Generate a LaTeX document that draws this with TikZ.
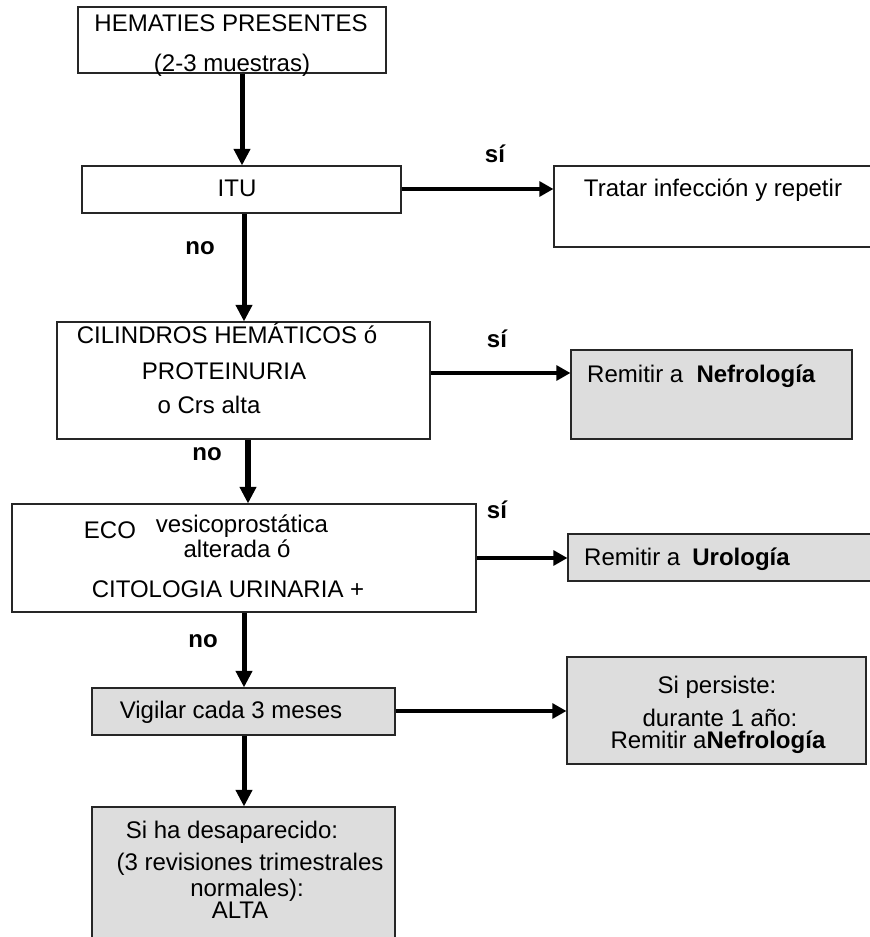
\documentclass[tikz,border=0pt]{standalone}
\usepackage{fontspec}
\setmainfont{Liberation Sans}
\usetikzlibrary{arrows.meta,fit}
\definecolor{boxfill}{HTML}{DDDDDD}

\begin{document}
\begin{tikzpicture}[x=0.03cm,y=-0.03cm,
    box/.style={draw=black!85,line width=0.9pt,inner sep=0pt},
    greybox/.style={box,fill=boxfill},
    txt/.style={inner sep=0pt,anchor=base,font=\fontsize{20.5}{24}\selectfont},
    lbl/.style={txt,font=\fontsize{20.5}{24}\selectfont\bfseries},
    vflow/.style={line width=0.15cm,-{Triangle[length=0.5cm,width=0.48cm]}},
    hflow/.style={line width=0.14cm,-{Triangle[length=0.42cm,width=0.44cm]}}]

\useasboundingbox (0,0) rectangle (869,937);

% boxes
\node [box, fit={(78,7) (386,73)}] (hem) {};
\node [box, fit={(82,166) (401,213)}] (itu) {};
\node [box, fit={(554,166) (875,247)}] (trat) {};
\node [box, fit={(57,322) (430,439)}] (cil) {};
\node [greybox, fit={(571,350) (852,439)}] (nefro) {};
\node [box, fit={(12,504) (476,612)}] (eco) {};
\node [greybox, fit={(568,534) (875,581)}] (uro) {};
\node [greybox, fit={(92,688) (395,735)}] (vig) {};
\node [greybox, fit={(567,657) (866,764)}] (pers) {};
\node [greybox, fit={(92,807) (395,945)}] (alta) {};

% flow down
\draw [vflow] (242,0 |- hem.south) -- (242,0 |- itu.north);
\draw [vflow] (244,0 |- itu.south) -- (244,0 |- cil.north);
\draw [vflow, line width=0.2cm] (248,0 |- cil.south) -- (248,0 |- eco.north);
\draw [vflow] (244,0 |- eco.south) -- (244,0 |- vig.north);
\draw [vflow] (244,0 |- vig.south) -- (244,0 |- alta.north);

% flow right
\draw [hflow] (itu.east |- 0,189) -- (trat.west |- 0,189);
\draw [hflow] (cil.east |- 0,373) -- (nefro.west |- 0,373);
\draw [hflow, line width=0.12cm] (eco.east |- 0,558) -- (uro.west |- 0,558);
\draw [hflow, line width=0.12cm] (vig.east |- 0,711) -- (pers.west |- 0,711);

% texts
\node [txt] (hem1) at (231,32) {HEMATIES PRESENTES};
\node [txt] (hem2) at (232,72) {(2-3 muestras)};
\node [txt] (itut) at (237,197) {ITU};
\node [txt] (tratt) at (713,197) {Tratar infección y repetir};
\node [txt] (cil1) at (227,343) {CILINDROS HEMÁTICOS ó};
\node [txt] (cil2) at (224,379) {PROTEINURIA};
\node [txt] (cil3) at (209,413) {o Crs alta};
\node [txt, anchor=base west] (nefrot) at (587,382) {Remitir a\hspace{0.55em}\textbf{Nefrología}};
\node [txt] (eco1) at (110,538) {ECO};
\node [txt] (eco2) at (242,532) {vesicoprostática};
\node [txt] (eco3) at (237,557) {alterada ó};
\node [txt] (eco4) at (228,597) {CITOLOGIA URINARIA +};
\node [txt, anchor=base west] (urot) at (584,565) {Remitir a\hspace{0.5em}\textbf{Urología}};
\node [txt] (vigt) at (231,718) {Vigilar cada 3 meses};
\node [txt] (pers1) at (717,693) {Si persiste:};
\node [txt] (pers2) at (720,726) {durante 1 año:};
\node [txt] (pers3) at (718,748) {Remitir a\textbf{Nefrología}};
\node [txt] (alta1) at (232,838) {Si ha desaparecido:};
\node [txt] (alta2) at (250,870) {(3 revisiones trimestrales};
\node [txt] (alta3) at (247,896) {normales):};
\node [txt] (alta4) at (240,918) {ALTA};

% labels
\node [lbl] (si1) at (495,163) {sí};
\node [lbl] (si2) at (497,347) {sí};
\node [lbl] (si3) at (497,518) {sí};
\node [lbl] (no1) at (200,255) {no};
\node [lbl] (no2) at (207,460) {no};
\node [lbl] (no3) at (203,647) {no};

\end{tikzpicture}
\end{document}
